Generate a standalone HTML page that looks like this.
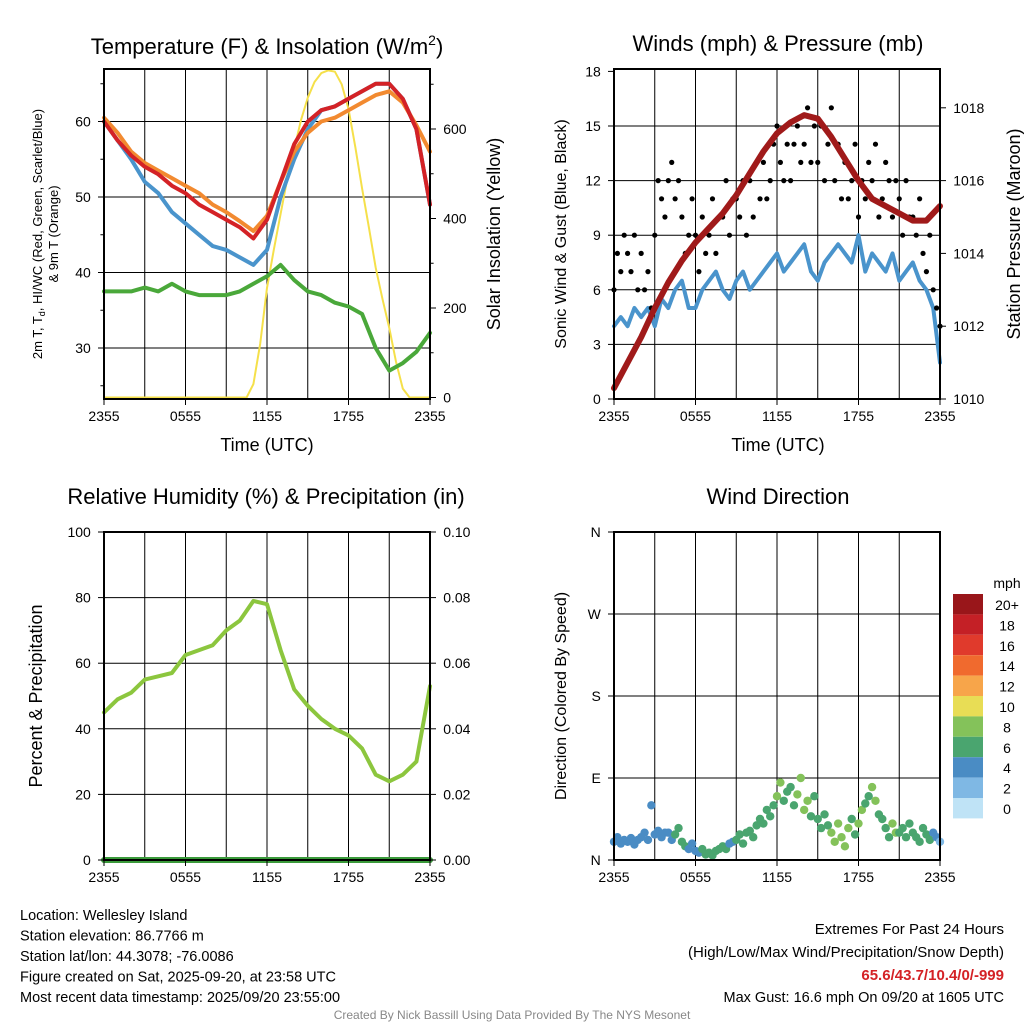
<!DOCTYPE html>
<html><head><meta charset="utf-8"><style>
body{margin:0;background:#fff;}
svg text{font-family:"Liberation Sans",sans-serif;fill:#000;}
</style></head><body>
<svg id="c" width="1024" height="1024" viewBox="0 0 1024 1024" xmlns="http://www.w3.org/2000/svg"></svg>
<script>
// ---- data ----
const hours=[0,1,2,3,4,5,6,7,8,9,10,11,12,13,14,15,16,17,18,19,20,21,22,23,24];
const xTickLabels=["2355","0555","1155","1755","2355"];
const temp2m=[60,57.5,55.5,54,53,51.5,50.5,49,48,47,46,44.5,47,52,57,60,61.5,62,63,64,65,65,63,59,49];
const temp9m=[60.5,58.5,56,54.5,53.5,52.5,51.5,50.5,49,48,46.8,45.5,47.5,52,56,58.5,60,60.5,61.5,62.5,63.5,64,62.5,59.5,56];
const heatWindChill=[60,57.5,55,52,50.5,48,46.5,45,43.5,43,42,41,43,50,55,59,61.5,62,63,64,65,65,63,59,49];
const dewpoint=[37.5,37.5,37.5,38,37.5,38.5,37.5,37,37,37,37.5,38.5,39.5,41,39,37.5,37,36,35.5,34.5,30,27,28,29.5,32];
const solar=[0,0,0,0,0,0,0,0,0,0,0,0,0,0,0,0,0,0,0,0,0,0,30,120,245,330,410,490,555,620,670,705,725,731,728,700,645,560,467,380,290,220,155,80,20,0,0,0,0];
const pressure=[1010.3,1011,1011.7,1012.5,1013.2,1013.8,1014.3,1014.7,1015.1,1015.6,1016.2,1016.8,1017.3,1017.6,1017.8,1017.7,1017.2,1016.6,1016.0,1015.5,1015.3,1015.1,1014.9,1014.9,1015.3];
const windSpeed=[4,4.5,4,5,4.5,5,4,5.5,5,6,6.5,5,5,6,6.5,7,6,5.5,6.5,7,6,6.5,7,7.5,8,7,7.5,8,8.5,7,6.5,7.5,8,8.5,8,7.5,9,7,8,7.5,7,8,6.5,7,7.5,6.5,6,5,2];
const gusts=[6,8,7,9,8,7,9,6,8,6,7,5,9,12,11,10,12,13,11,12,10,8,9,11,9,7,10,8,9,11,8,10,10,12,9,11,11,10,12,9,12,10,13,11,13,11,12,14,15,13,12,14,12,14,15,13,14,16,13,15,13,15,12,14,16,12,14,11,13,11,12,14,10,12,11,13,12,14,10,11,13,12,10,12,11,9,12,10,10,9,11,8,7,9,6,5,4];
const humidity=[45,49,51,55,56,57,62.5,64,65.5,70,73,79,78,64,52,47,43,40,38,34,26,24,26,30,53];
const precip=[0,0,0,0,0,0,0,0,0,0,0,0,0,0,0,0,0,0,0,0,0,0,0,0,0];
const windDir=[20,25,18,22,20,24,17,22,25,30,22,60,28,32,25,30,30,22,28,35,20,15,12,18,10,8,12,6,8,5,10,12,15,12,18,20,22,28,18,30,32,25,38,45,40,55,48,60,70,85,65,75,80,60,72,90,55,65,48,70,45,35,50,38,30,20,40,25,15,35,45,28,40,55,62,70,80,65,50,45,35,25,40,30,30,35,25,40,30,25,20,35,28,22,30,25,20];
const cbLabels=["20+","18","16","14","12","10","8","6","4","2","0"];
const cbColors=["#99161a","#c42026","#e03a2c","#f06a2e","#f7a54a","#e8dd55","#84c25a","#4aa56f","#4a8cc4","#7fb8e4","#bfe3f6"];

const svg=document.getElementById('c');
const NS="http://www.w3.org/2000/svg";
function el(tag,attrs,parent){const e=document.createElementNS(NS,tag);for(const k in attrs)e.setAttribute(k,attrs[k]);(parent||svg).appendChild(e);return e;}
function txt(x,y,s,size,anchor,parent,extra){const t=el('text',Object.assign({x:x,y:y,'font-size':size,'text-anchor':anchor||'middle'},extra||{}),parent);t.textContent=s;return t;}

function panel(name,x0,y0,x1,y1){
  const g=el('g',{});
  
  
  return {g,x0,y0,x1,y1,sx:h=>x0+(x1-x0)*h/24};
}
function frame(p,hGrid){
  for(let i=0;i<=8;i++){const x=p.x0+(p.x1-p.x0)*i/8;el('line',{x1:x,y1:p.y0,x2:x,y2:p.y1,stroke:'#000','stroke-width':1},p.g);}
  hGrid.forEach(y=>el('line',{x1:p.x0,y1:y,x2:p.x1,y2:y,stroke:'#000','stroke-width':1},p.g));
}
function border(p){el('rect',{x:p.x0,y:p.y0,width:p.x1-p.x0,height:p.y1-p.y0,fill:'none',stroke:'#000','stroke-width':2},p.g);}
function xTicks(p){
  const ax=el('g',{},p.g);
  
  
  xTickLabels.forEach((l,i)=>{const x=p.x0+(p.x1-p.x0)*i/4;el('line',{x1:x,y1:p.y1,x2:x,y2:p.y1+6,stroke:'#000'},ax);txt(x,p.y1+22,l,14,'middle',ax);});
}
function yTicks(p,vals,fy,side,fmt,minor){
  const ax=el('g',{},p.g);
  
  
  const xe=side==='left'?p.x0:p.x1,d=side==='left'?-6:6;
  vals.forEach(v=>{const y=fy(v);el('line',{x1:xe,y1:y,x2:xe+d,y2:y,stroke:'#000'},ax);txt(xe+d*2.2,y+5,fmt?fmt(v):String(v),14,side==='left'?'end':'start',ax);});
  (minor||[]).forEach(v=>{const y=fy(v);el('line',{x1:xe,y1:y,x2:xe+d*0.6,y2:y,stroke:'#000'},ax);});
}
function line(p,xs,ys,color,w,name){
  const pts=ys.map((v,i)=>xs(i).toFixed(1)+','+v.toFixed(1)).join(' ');
  const l=el('polyline',{points:pts,fill:'none',stroke:color,'stroke-width':w,'stroke-linejoin':'round','stroke-linecap':'round'},p.g);
  
  
}

// ---- Panel 1 ----
const p1=panel('temperature-panel',104,69,430,399);
const tY=v=>348-(v-30)*7.55, sY=v=>397.5-v*0.4475;
frame(p1,[30,40,50,60].map(tY));
line(p1,i=>p1.sx(i*0.5),solar.map(sY),'#f5e04a',2,'solar-insolation-line');
line(p1,i=>p1.sx(hours[i]),dewpoint.map(tY),'#4aa83a',4,'dewpoint-line');
line(p1,i=>p1.sx(hours[i]),heatWindChill.map(tY),'#4a94cc',4,'heat-index-windchill-line');
line(p1,i=>p1.sx(hours[i]),temp9m.map(tY),'#f28a30',4,'temp-9m-line');
line(p1,i=>p1.sx(hours[i]),temp2m.map(tY),'#d42226',4,'temp-2m-line');
border(p1);xTicks(p1);
yTicks(p1,[30,40,50,60],tY,'left',null,[25,35,45,55,65]);
yTicks(p1,[0,200,400,600],sY,'right',null,[100,300,500,700]);
const t1=el('text',{x:267,y:54,'font-size':22,'text-anchor':'middle'},p1.g);


t1.innerHTML='Temperature (F) &amp; Insolation (W/m<tspan font-size="14" dy="-9">2</tspan><tspan dy="9">)</tspan>';
txt(267,451,'Time (UTC)',18,'middle',p1.g);
const yl1=el('g',{transform:'translate(42,234) rotate(-90)'},p1.g);
const yt=el('text',{x:0,y:0,'font-size':13,'text-anchor':'middle'},yl1);
yt.innerHTML='2m T, T<tspan font-size="9" dy="3">d</tspan><tspan dy="-3">, HI/WC (Red, Green, Scarlet/Blue)</tspan>';
txt(0,16,'& 9m T (Orange)',13,'middle',yl1);
const yr1=el('g',{transform:'translate(500,234) rotate(-90)'},p1.g);
txt(0,0,'Solar Insolation (Yellow)',18,'middle',yr1);

// ---- Panel 2 ----
const p2=panel('winds-pressure-panel',614,69,940,399);
const wY=v=>399-v*18.2, pY=v=>399-(v-1010)*36.4;
frame(p2,[3,6,9,12,15].map(wY));
line(p2,i=>p2.sx(i*0.5),windSpeed.map(wY),'#4a94cc',4,'sonic-wind-line');
const gg=el('g',{},p2.g);


gusts.forEach((v,i)=>{el('circle',{cx:p2.sx(i*0.25),cy:wY(v),r:2.6,fill:'#000'},gg);});
line(p2,i=>p2.sx(hours[i]),pressure.map(pY),'#a01a1a',6,'pressure-line');
border(p2);xTicks(p2);
yTicks(p2,[0,3,6,9,12,15,18],wY,'left');
yTicks(p2,[1010,1012,1014,1016,1018],pY,'right');
txt(778,51,'Winds (mph) & Pressure (mb)',22,'middle',p2.g);
txt(778,451,'Time (UTC)',18,'middle',p2.g);
const yl2=el('g',{transform:'translate(566,234) rotate(-90)'},p2.g);txt(0,0,'Sonic Wind & Gust (Blue, Black)',16,'middle',yl2);
const yr2=el('g',{transform:'translate(1020,234) rotate(-90)'},p2.g);txt(0,0,'Station Pressure (Maroon)',18,'middle',yr2);

// ---- Panel 3 ----
const p3=panel('humidity-precip-panel',104,532,430,860);
const hY=v=>860-v*3.28, prY=v=>860-v*3280;
frame(p3,[20,40,60,80].map(hY));
line(p3,i=>p3.sx(hours[i]),humidity.map(hY),'#8cc63e',4,'humidity-line');
line(p3,i=>p3.sx(hours[i]),precip.map(prY),'#3a9a3a',6,'precip-line');
border(p3);xTicks(p3);
yTicks(p3,[0,20,40,60,80,100],hY,'left');
yTicks(p3,[0,0.02,0.04,0.06,0.08,0.10],prY,'right',v=>v.toFixed(2));
txt(266,504,'Relative Humidity (%) & Precipitation (in)',22,'middle',p3.g);
const yl3=el('g',{transform:'translate(42,696) rotate(-90)'},p3.g);txt(0,0,'Percent & Precipitation',18,'middle',yl3);

// ---- Panel 4 ----
const p4=panel('wind-direction-panel',614,532,940,860);
const dY=v=>860-v*0.9111;
frame(p4,[90,180,270].map(dY));
function speedColor(s){const idx=Math.min(10,Math.floor(s/2));return cbColors[10-idx];}
const dg=el('g',{},p4.g);


windDir.forEach((v,i)=>{el('circle',{cx:p4.sx(i*0.25),cy:dY(v),r:4.2,fill:speedColor(windSpeed[Math.min(48,Math.floor(i/2))])},dg);});
border(p4);xTicks(p4);
yTicks(p4,[0,90,180,270,360],dY,'left',v=>['N','E','S','W','N'][v/90]);
txt(778,504,'Wind Direction',22,'middle',p4.g);
const yl4=el('g',{transform:'translate(566,696) rotate(-90)'},p4.g);txt(0,0,'Direction (Colored By Speed)',16,'middle',yl4);

// colorbar
const cb=el('g',{});


txt(1007,588,'mph',14,'middle',cb);
cbColors.forEach((c,i)=>{el('rect',{x:953,y:594+i*20.4,width:30,height:20.4,fill:c},cb);txt(1007,610+i*20.4,cbLabels[i],14,'middle',cb);});

// footer
const ft=el('g',{});


["Location: Wellesley Island","Station elevation: 86.7766 m","Station lat/lon: 44.3078; -76.0086","Figure created on Sat, 2025-09-20, at 23:58 UTC","Most recent data timestamp: 2025/09/20 23:55:00"].forEach((s,i)=>txt(20,920+i*20.5,s,14.5,'start',ft));
txt(1004,934,'Extremes For Past 24 Hours',15,'end',ft);
txt(1004,957,'(High/Low/Max Wind/Precipitation/Snow Depth)',15,'end',ft);
txt(1004,980,'65.6/43.7/10.4/0/-999',15,'end',ft,{'font-weight':'bold',style:'fill:#d42226'});
txt(1004,1002,'Max Gust: 16.6 mph On 09/20 at 1605 UTC',14.5,'end',ft);
txt(512,1019,'Created By Nick Bassill Using Data Provided By The NYS Mesonet',12,'middle',ft,{style:'fill:#888'});
</script>
</body></html>
